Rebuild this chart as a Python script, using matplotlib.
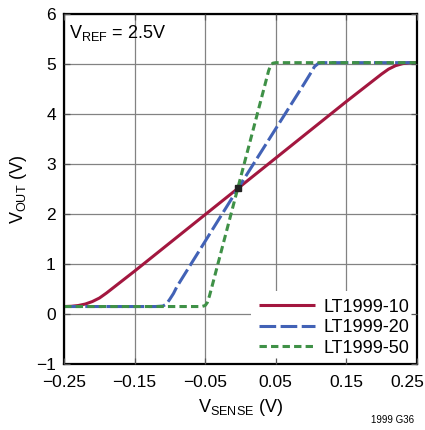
import matplotlib
matplotlib.use("Agg")
import matplotlib.pyplot as plt
from matplotlib.transforms import ScaledTranslation

plt.rcParams["font.family"] = ["Liberation Sans Narrow", "Liberation Sans", "DejaVu Sans"]
plt.rcParams["mathtext.fontset"] = "custom"
plt.rcParams["mathtext.rm"] = "Liberation Sans"
plt.rcParams["mathtext.it"] = "Liberation Sans"
plt.rcParams["lines.scale_dashes"] = False

# LT1999-10
x10 = [-0.25, -0.24, -0.23, -0.22, -0.21, -0.20, -0.19, -0.15, -0.05, 0.05,
       0.15, 0.20, 0.21, 0.22, 0.23, 0.24, 0.25]
v10 = [0.15, 0.155, 0.17, 0.20, 0.25, 0.32, 0.42, 0.86, 1.99, 3.12,
       4.25, 4.80, 4.90, 4.97, 5.01, 5.03, 5.03]
# LT1999-20
x20 = [-0.25, -0.12, -0.11, -0.105, -0.10, -0.095, -0.09, 0.0, 0.09,
       0.10, 0.105, 0.11, 0.115, 0.25]
v20 = [0.15, 0.15, 0.16, 0.20, 0.30, 0.41, 0.55, 2.59, 4.60,
       4.83, 4.95, 5.01, 5.03, 5.03]
# LT1999-50
x50 = [-0.25, -0.055, -0.05, -0.047, -0.044, -0.04, 0.0, 0.035,
       0.04, 0.043, 0.046, 0.05, 0.25]
v50 = [0.15, 0.15, 0.17, 0.23, 0.36, 0.57, 2.72, 4.60,
       4.87, 4.98, 5.02, 5.03, 5.03]

labels = ["LT1999-10", "LT1999-20", "LT1999-50"]
colors = ["#a3173f", "#4262b6", "#3f9147"]

xticks = [-0.25, -0.15, -0.05, 0.05, 0.15, 0.25]
xticklabels = ["\u22120.25", "\u22120.15", "\u22120.05", "0.05", "0.15", "0.25"]
yticks = [-1, 0, 1, 2, 3, 4, 5, 6]

fig = plt.figure(figsize=(4.25, 4.30), dpi=100)
ax = fig.add_axes([0.151, 0.1535, 0.8295, 0.8135])

for xv in xticks:
    ax.axvline(xv, color="#828282", lw=0.9, zorder=0.5)
for yv in yticks:
    ax.axhline(yv, color="#828282", lw=0.9, zorder=0.5)

ax.plot(x10, v10, color=colors[0], lw=2.2, label=labels[0], solid_capstyle="butt")
ax.plot(x20, v20, color=colors[1], lw=2.2, ls=(0, (12, 3.2)), label=labels[1])
ax.plot(x50, v50, color=colors[2], lw=2.2, ls=(0, (5.3, 3)), label=labels[2])
ax.plot([-0.004], [2.53], marker="s", ms=5, color="#222222", zorder=3)

ax.set_xlim(-0.25, 0.25)
ax.set_ylim(-1, 6)
ax.set_xticks(xticks)
ax.set_xticklabels(xticklabels)
ax.set_yticks(yticks)
ax.set_yticklabels(["\u22121"] + [str(v) for v in yticks[1:]])
ax.set_axisbelow(False)
ax.tick_params(direction="in", length=4, width=0.9, color="#555555",
               top=True, right=True, labelsize=12.5)
ax.tick_params(axis="x", pad=8)
ax.tick_params(axis="y", pad=6)
for s in ax.spines.values():
    s.set_linewidth(1.6)
    s.set_color("black")

# keep the last x label inside the figure
last = ax.get_xticklabels()[-1]
last.set_transform(last.get_transform() + ScaledTranslation(-0.09, 0, fig.dpi_scale_trans))

ax.set_xlabel(r"$\mathrm{V_{SENSE}}$ (V)", fontsize=13, labelpad=5)
ax.set_ylabel(r"$\mathrm{V_{OUT}}$ (V)", fontsize=13, labelpad=5)

ax.text(-0.243, 5.62, r"$\mathrm{V_{REF}}$ = 2.5V", fontsize=13, va="center", ha="left")

leg = ax.legend(loc="lower right", borderaxespad=0, fontsize=13, frameon=True,
                fancybox=False, framealpha=1, edgecolor="none", facecolor="white",
                handlelength=3.1, handletextpad=0.5, labelspacing=0.2,
                borderpad=0.4)
leg.set_zorder(2.2)

fig.text(0.975, 0.012, "1999 G36", fontsize=7, ha="right", va="bottom")

fig.savefig("out.png", dpi=100)
